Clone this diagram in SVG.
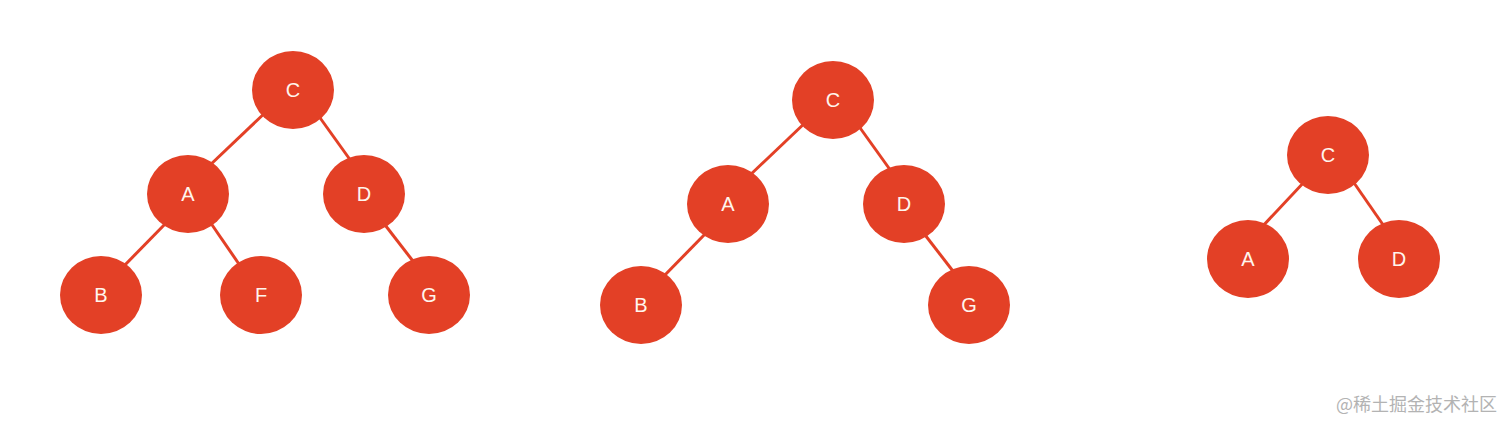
<svg xmlns="http://www.w3.org/2000/svg" width="1512" height="430" viewBox="0 0 1512 430">
<style>
.n ellipse{fill:#E34026;}
.n text{fill:#FFF6EE;font-family:"Liberation Sans",Arial,sans-serif;font-size:20px;text-anchor:middle;dominant-baseline:central;}
.e line{stroke:#E34026;stroke-width:3;}
.wm{fill:#B3B3B3;font-family:"Noto Sans CJK SC","Liberation Sans",sans-serif;font-size:18px;}
</style>
<rect width="1512" height="430" fill="#fff"/>
<g id="connectors" class="e">
<line x1="268" y1="110" x2="208" y2="167"/>
<line x1="318" y1="115" x2="351" y2="161"/>
<line x1="168" y1="221" x2="121" y2="269"/>
<line x1="208" y1="219" x2="241" y2="267"/>
<line x1="382" y1="221" x2="416" y2="265"/>
<line x1="808" y1="120" x2="748" y2="177"/>
<line x1="858" y1="125" x2="891" y2="171"/>
<line x1="708" y1="231" x2="661" y2="279"/>
<line x1="922" y1="231" x2="956" y2="275"/>
<line x1="1306" y1="180" x2="1260" y2="229"/>
<line x1="1352" y1="180" x2="1386" y2="229"/>
</g>
<g id="t1-C" class="n"><ellipse cx="293" cy="90" rx="41" ry="39"/><text x="293" y="90">C</text></g>
<g id="t1-A" class="n"><ellipse cx="188" cy="194" rx="41" ry="39"/><text x="188" y="194">A</text></g>
<g id="t1-D" class="n"><ellipse cx="364" cy="194" rx="41" ry="39"/><text x="364" y="194">D</text></g>
<g id="t1-B" class="n"><ellipse cx="101" cy="295" rx="41" ry="39"/><text x="101" y="295">B</text></g>
<g id="t1-F" class="n"><ellipse cx="261" cy="295" rx="41" ry="39"/><text x="261" y="295">F</text></g>
<g id="t1-G" class="n"><ellipse cx="429" cy="295" rx="41" ry="39"/><text x="429" y="295">G</text></g>
<g id="t2-C" class="n"><ellipse cx="833" cy="100" rx="41" ry="39"/><text x="833" y="100">C</text></g>
<g id="t2-A" class="n"><ellipse cx="728" cy="204" rx="41" ry="39"/><text x="728" y="204">A</text></g>
<g id="t2-D" class="n"><ellipse cx="904" cy="204" rx="41" ry="39"/><text x="904" y="204">D</text></g>
<g id="t2-B" class="n"><ellipse cx="641" cy="305" rx="41" ry="39"/><text x="641" y="305">B</text></g>
<g id="t2-G" class="n"><ellipse cx="969" cy="305" rx="41" ry="39"/><text x="969" y="305">G</text></g>
<g id="t3-C" class="n"><ellipse cx="1328" cy="155" rx="41" ry="39"/><text x="1328" y="155">C</text></g>
<g id="t3-A" class="n"><ellipse cx="1248" cy="259" rx="41" ry="39"/><text x="1248" y="259">A</text></g>
<g id="t3-D" class="n"><ellipse cx="1399" cy="259" rx="41" ry="39"/><text x="1399" y="259">D</text></g>
<text class="wm" x="1336" y="411">@稀土掘金技术社区</text>
</svg>
